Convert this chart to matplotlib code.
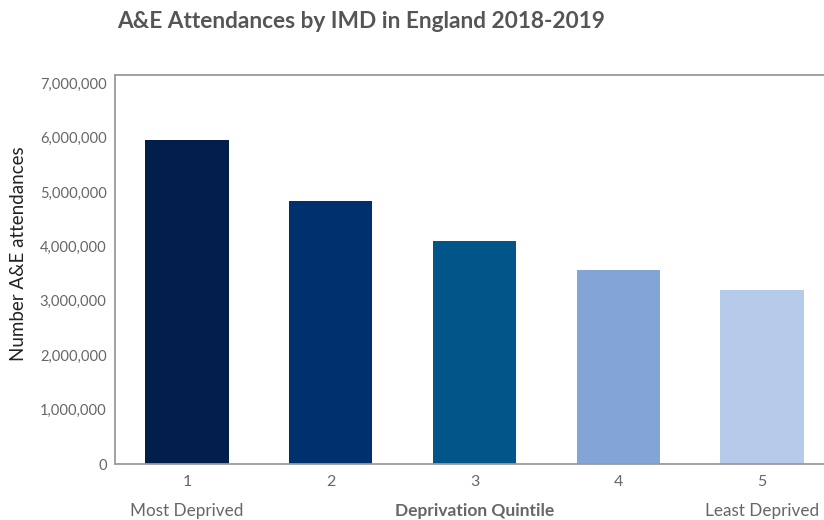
import matplotlib.pyplot as plt
from matplotlib.ticker import FuncFormatter

quintiles = ['1', '2', '3', '4', '5']
attendances = [5950000, 4830000, 4100000, 3560000, 3200000]
bar_colors = ['#021f4b', '#00306e', '#025589', '#82a4d6', '#b6cbea']
under_labels = ['Most Deprived', 'Deprivation Quintile', 'Least Deprived']

plt.rcParams['font.family'] = ['Lato', 'DejaVu Sans']

fig = plt.figure(figsize=(8.24, 5.2), dpi=100)
ax = fig.add_axes([115 / 824, 1 - 464 / 520, 709 / 824, (464 - 75) / 520])

x = range(len(quintiles))
ax.bar(x, attendances, width=0.58, color=bar_colors, zorder=2)

ax.set_xlim(-0.5, 4.43)
ax.set_ylim(0, 7150000)
ax.set_yticks(range(0, 7000001, 1000000))
ax.yaxis.set_major_formatter(FuncFormatter(lambda v, p: f'{int(v):,}'))
ax.set_xticks(list(x))
ax.set_xticklabels(quintiles)
ax.tick_params(length=0, colors='#666666', labelsize=10.6)
ax.tick_params(axis='x', pad=8, labelsize=11.5)
ax.tick_params(axis='y', pad=6)

for side in ['left', 'top', 'bottom']:
    ax.spines[side].set_color('#9a9a9a')
    ax.spines[side].set_linewidth(1.3)
ax.spines['right'].set_visible(False)

ax.set_ylabel('Number A&E attendances', fontsize=13.5, color='#222222')
ax.yaxis.set_label_coords(-0.124, 0.54)

fig.text(117 / 824, 1 - 21 / 520, 'A&E Attendances by IMD in England 2018-2019',
         fontsize=16.3, fontweight='bold', color='#555555', va='center', ha='left')

# labels under the quintile numbers
ax.text(0, -0.122, under_labels[0], transform=ax.get_xaxis_transform(),
        ha='center', va='center', fontsize=12.3, color='#666666')
ax.text(2, -0.122, under_labels[1], transform=ax.get_xaxis_transform(),
        ha='center', va='center', fontsize=12.5, color='#666666', fontweight='bold')
ax.text(4, -0.122, under_labels[2], transform=ax.get_xaxis_transform(),
        ha='center', va='center', fontsize=12.3, color='#666666')

fig.savefig('out.png', dpi=100)
